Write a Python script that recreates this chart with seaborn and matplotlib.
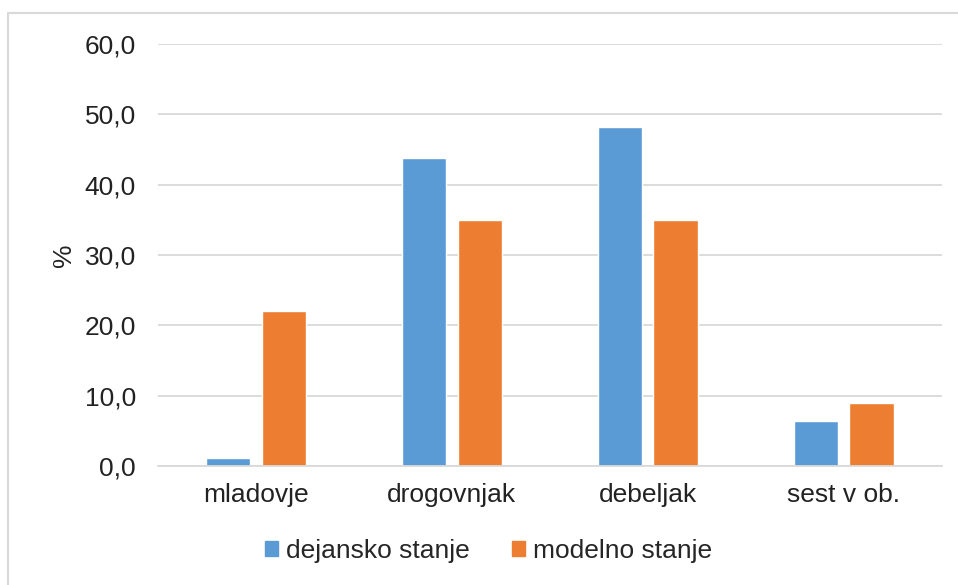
import pandas as pd
import matplotlib.pyplot as plt
import matplotlib.patches as mpatches
import seaborn as sns

categories = ['mladovje', 'drogovnjak', 'debeljak', 'sest v ob.']
dejansko = [1.2, 43.8, 48.2, 6.4]
modelno = [22.0, 35.0, 35.0, 9.0]
series = ['dejansko stanje', 'modelno stanje']
yticks = [0, 10, 20, 30, 40, 50, 60]

df = pd.DataFrame({
    'kategorija': categories * 2,
    'vrednost': dejansko + modelno,
    'stanje': [series[0]] * 4 + [series[1]] * 4,
})

sns.set_style("white")
plt.rcParams['font.family'] = ['Liberation Sans', 'DejaVu Sans']
fs = 19

fig = plt.figure(figsize=(9.58, 5.85), dpi=100)
ax = fig.add_axes([0.165, 0.2034, 0.818, 0.7214])

sns.barplot(data=df, x='kategorija', y='vrednost', hue='stanje',
            palette=['#5B9BD5', '#ED7D31'], width=0.57, gap=0.2,
            saturation=1, ax=ax, legend=False)

ax.set_ylim(0, 60)
ax.set_yticks(yticks)
ax.set_yticklabels([f'{v:.1f}'.replace('.', ',') for v in yticks], fontsize=fs, color='#222222')
ax.tick_params(axis='x', labelsize=fs, labelcolor='#222222', pad=12, length=0)
ax.tick_params(axis='y', pad=16, length=0)
ax.set_xlabel('')
ax.set_ylabel('%', fontsize=fs, color='#222222', labelpad=6)
ax.grid(axis='y', color='#D9D9D9', linewidth=1.3)
ax.set_axisbelow(True)
for s in ['top', 'right', 'left']:
    ax.spines[s].set_visible(False)
ax.spines['bottom'].set_color('#D9D9D9')
ax.spines['bottom'].set_linewidth(1.3)

handles = [mpatches.Patch(color='#5B9BD5', label=series[0]),
           mpatches.Patch(color='#ED7D31', label=series[1])]
fig.legend(handles=handles, loc='center', bbox_to_anchor=(0.51, 0.058), ncol=2,
           frameon=False, fontsize=fs, handlelength=0.5, handleheight=0.5,
           handletextpad=0.3, columnspacing=1.6)

# outer chart frame
fig.patches.append(mpatches.Rectangle((8 / 958, -0.05), 1.1, 1 - 13 / 585 + 0.05,
                                      transform=fig.transFigure, fill=False,
                                      edgecolor='#D9D9D9', linewidth=1.5))

fig.savefig('out.png', dpi=100)
